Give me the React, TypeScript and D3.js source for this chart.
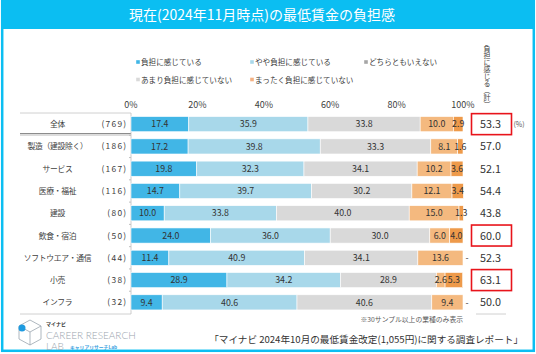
import React from 'react';
import * as d3 from 'd3';

const categories = ['全体', '製造（建設除く）', 'サービス', '医療・福祉', '建設', '飲食・宿泊', 'ソフトウエア・通信', '小売', 'インフラ'];
const counts = ['(769)', '(186)', '(167)', '(116)', '(80)', '(50)', '(44)', '(38)', '(32)'];
const seriesNames = ['負担に感じている', 'やや負担に感じている', 'どちらともいえない', 'あまり負担に感じていない', 'まったく負担に感じていない'];
const s1 = [17.4, 17.2, 19.8, 14.7, 10.0, 24.0, 11.4, 28.9, 9.4];
const s2 = [35.9, 39.8, 32.3, 39.7, 33.8, 36.0, 40.9, 34.2, 40.6];
const s3 = [33.8, 33.3, 34.1, 30.2, 40.0, 30.0, 34.1, 28.9, 40.6];
const s4 = [10.0, 8.1, 10.2, 12.1, 15.0, 6.0, 13.6, 2.6, 9.4];
const s5 = [2.9, 1.6, 3.6, 3.4, 1.3, 4.0, 0, 5.3, 0];
const totals = [53.3, 57.0, 52.1, 54.4, 43.8, 60.0, 52.3, 63.1, 50.0];
const highlighted = ['全体', '飲食・宿泊', '小売'];
const ticks = [0, 20, 40, 60, 80, 100];

const barColors = ['#41B6E6', '#A8D8EA', '#D9D9D9', '#F4B97F', '#EE9A4A'];
const legendColors = ['#41B6E6', '#A8D8EA', '#A6A6A6', '#D9D9D9', '#F4B183'];
const FONT = '"Noto Sans CJK JP", "Noto Sans", sans-serif';

export default function App() {
  const series = [s1, s2, s3, s4, s5];
  const x = d3.scaleLinear().domain([0, 100]).range([131, 463]);
  const y = d3.scaleBand<string>().domain(categories).range([113, 313.5]).paddingInner(0.32).paddingOuter(0.16);
  const bh = y.bandwidth();
  const rows = categories.map((c, i) => {
    let acc = 0;
    const segs = series.map((s, k) => {
      const v = s[i];
      const seg = { k, v, x0: acc, x1: acc + v };
      acc += v;
      return seg;
    });
    return { c, i, segs };
  });
  const legend = [
    { k: 0, lx: 138, ly: 62 },
    { k: 1, lx: 252, ly: 62 },
    { k: 2, lx: 366, ly: 62 },
    { k: 3, lx: 138, ly: 79.5 },
    { k: 4, lx: 252, ly: 79.5 },
  ];
  const cy = (c: string) => (y(c) as number) + bh / 2;
  const step = y.step();
  return (
    <svg width={536} height={354} style={{ position: 'absolute', left: 0, top: 0, background: '#fff' }} fontFamily={FONT}>
      <rect x={2.2} y={1} width={531.6} height={349.8} fill="#fff" stroke="#0BBEF2" strokeWidth={2.5} />
      <rect x={1} y={0} width={534} height={29} fill="#0BBEF2" />
      <text x={262} y={19.8} textAnchor="middle" fill="#fff" fontSize={14}>現在(2024年11月時点)の最低賃金の負担感</text>

      {legend.map((l) => (
        <g key={l.k}>
          <rect x={l.lx - 1.8} y={l.ly - 1.8} width={3.6} height={3.6} fill={legendColors[l.k]} />
          <text x={l.lx + 3} y={l.ly + 3} fontSize={7.6} fill="#404040">{seriesNames[l.k]}</text>
        </g>
      ))}

      <text x={487} y={45} fontSize={7} fill="#404040" style={{ writingMode: 'vertical-rl' } as any}>負担に感じる（計）</text>

      {ticks.map((t) => (
        <text key={t} x={x(t)} y={107.5} textAnchor="middle" fontSize={9} fill="#404040">{t}%</text>
      ))}

      <line x1={20} x2={131} y1={113} y2={113} stroke="#D0D0D0" strokeWidth={1} />
      <line x1={20} x2={131} y1={133.5} y2={133.5} stroke="#8C8C8C" strokeWidth={1} />
      <line x1={20} x2={131} y1={135} y2={135} stroke="#8C8C8C" strokeWidth={0.6} />
      <line x1={20} x2={131} y1={314} y2={314} stroke="#D0D0D0" strokeWidth={1} />
      <line x1={476} x2={506} y1={314} y2={314} stroke="#D0D0D0" strokeWidth={1} />
      <line x1={131} x2={131} y1={113} y2={314} stroke="#BFBFBF" strokeWidth={0.8} />
      {categories.slice(0, -1).map((c) => (
        <line key={c} x1={129} x2={131} y1={(y(c) as number) + bh + (step - bh) / 2} y2={(y(c) as number) + bh + (step - bh) / 2} stroke="#BFBFBF" />
      ))}

      {rows.map((r) => (
        <g key={r.c}>
          <text x={57.5} y={cy(r.c) + 3} textAnchor="middle" fontSize={7.8} letterSpacing={-0.3} fill="#404040">{r.c}</text>
          <text x={127.5} y={cy(r.c) + 3} textAnchor="end" fontSize={8.4} letterSpacing={1.3} fill="#404040">{counts[r.i]}</text>
          {r.segs.map((s) => (
            <rect key={s.k} x={x(s.x0)} y={y(r.c)} width={Math.max(0, x(s.x1) - x(s.x0))} height={bh} fill={barColors[s.k]} stroke="#fff" strokeWidth={s.v > 0 ? 0.6 : 0} />
          ))}
          {r.segs.map((s) => (
            <text key={'t' + s.k} x={s.v > 0 ? (x(s.x0) + x(s.x1)) / 2 : 467} y={cy(r.c) + 3.2} textAnchor="middle" fontSize={8.8} fill="#333">
              {s.v > 0 ? s.v.toFixed(1) : (s.k === 4 ? '-' : '')}
            </text>
          ))}
          {highlighted.includes(r.c) && (
            <rect x={471.5} y={cy(r.c) - 10.5} width={40} height={21} fill="#fff" stroke="#E8141B" strokeWidth={1.6} />
          )}
          <text x={490.5} y={cy(r.c) + 4} textAnchor="middle" fontSize={10.8} fill="#333">{totals[r.i].toFixed(1)}</text>
        </g>
      ))}
      <text x={519} y={cy(categories[0]) + 2.5} textAnchor="middle" fontSize={7} fill="#595959">(%)</text>

      <text x={463} y={322} textAnchor="end" fontSize={6.8} fill="#595959">※30サンプル以上の業種のみ表示</text>
      <text x={523} y={343} textAnchor="end" fontSize={9.6} fill="#333">「マイナビ 2024年10月の最低賃金改定(1,055円)に関する調査レポート」</text>

      <g stroke="#9AA5AE" strokeWidth={0.8} fill="none">
        <polygon points="30,320 41,326 41,339 30,345 19,339 19,326" />
        <polyline points="19,326 30,332 41,326" />
        <line x1={30} y1={332} x2={30} y2={345} />
      </g>
      <circle cx={22} cy={328} r={3.5} fill="#1E9BE0" />
      <text x={46} y={326} fontSize={5} fontWeight="bold" fill="#333">マイナビ</text>
      <text x={46} y={338.5} fontSize={10} fill="#9AA5AE" fontFamily="Lato, sans-serif" fontWeight={300}>CAREER RESEARCH</text>
      <text x={46} y={350} fontSize={10} fill="#9AA5AE" fontFamily="Lato, sans-serif" fontWeight={300}>LAB</text>
      <text x={70} y={349} fontSize={4.8} fontWeight="bold" fill="#3A9FE0">キャリアリサーチLab</text>
    </svg>
  );
}
